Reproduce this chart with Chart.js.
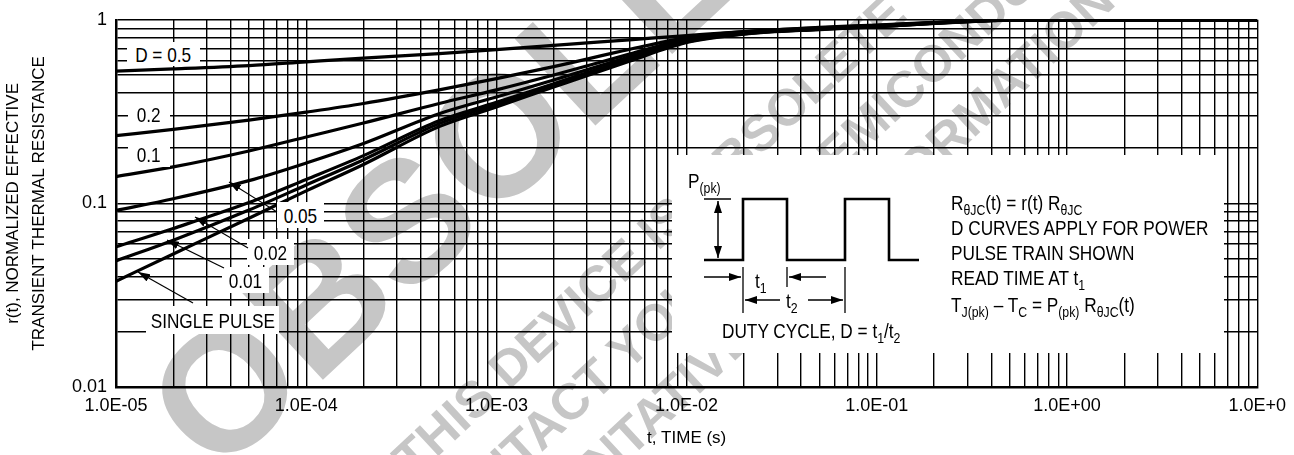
<!DOCTYPE html>
<html>
<head>
<meta charset="utf-8">
<title>Thermal Response</title>
<script src="https://cdn.jsdelivr.net/npm/chart.js@4.4.1/dist/chart.umd.min.js"></script>
<style>
  html, body { margin: 0; padding: 0; background: #fff; overflow: hidden; }
  #wrap { position: relative; width: 1294px; height: 455px; color: #000;
          font-family: "Liberation Sans", Arial, sans-serif; }
  #wm { position: absolute; left: 0; top: 0; width: 1294px; height: 455px; overflow: hidden; }
  .wm { position: absolute; transform-origin: 0 0; transform: rotate(-43deg); font-weight: bold;
        line-height: 1; color: #c6c6c6; white-space: nowrap; }
  #chart { position: absolute; left: 0; top: 0; }
  .tag { position: absolute; background: #fff; font-size: 21px; line-height: 1;
         display: flex; align-items: center; justify-content: center; white-space: nowrap; }
  .tag span { display: inline-block; transform: scaleX(0.82); }
  #inset { position: absolute; left: 672px; top: 155px; width: 552px; height: 198px; background: #fff; }
  .txt { position: absolute; font-size: 21px; line-height: 21px; white-space: nowrap;
         transform: scaleX(0.82); transform-origin: 0 50%; }
  sub { font-size: 15px; vertical-align: -5px; line-height: 0; }
  svg { position: absolute; left: 0; top: 0; overflow: visible; }
</style>
</head>
<body>
<div id="wrap">
  <!-- obsolete stamp, underneath the chart -->
  <div id="wm">
    <div class="wm" style="left:117px; top:372px; font-size:172px;">OBSOLETE</div>
    <div class="wm" style="left:384px; top:448px; font-size:51px;">THIS DEVICE IS OBSOLETE</div>
    <div class="wm" style="left:409px; top:517px; font-size:51px;">CONTACT YOUR ON SEMICONDUCTOR</div>
    <div class="wm" style="left:396px; top:618px; font-size:51px;">REPRESENTATIVE FOR INFORMATION</div>
  </div>

  <canvas id="chart" width="1294" height="455"></canvas>

  <!-- curve labels -->
  <div class="tag" style="left:127px; top:42px; width:73px; height:24px;"><span>D = 0.5</span></div>
  <div class="tag" style="left:128px; top:101px; width:42px; height:26px;"><span>0.2</span></div>
  <div class="tag" style="left:128px; top:141px; width:42px; height:26px;"><span>0.1</span></div>
  <div class="tag" style="left:277px; top:202px; width:47px; height:26px;"><span>0.05</span></div>
  <div class="tag" style="left:247px; top:239px; width:47px; height:26px;"><span>0.02</span></div>
  <div class="tag" style="left:222px; top:267px; width:47px; height:26px;"><span>0.01</span></div>
  <div class="tag" style="left:146px; top:306px; width:133px; height:28px;"><span>SINGLE PULSE</span></div>

  <svg width="1294" height="455">
    <defs>
      <marker id="ah" viewBox="0 0 12 8" refX="12" refY="4" markerWidth="12" markerHeight="8"
              markerUnits="userSpaceOnUse" orient="auto-start-reverse">
        <path d="M0,0 L12,4 L0,8 z" fill="#000"/>
      </marker>
    </defs>
    <g stroke="#000" stroke-width="1.2" fill="none">
      <line x1="277" y1="212" x2="229" y2="182" marker-end="url(#ah)"/>
      <line x1="248" y1="248" x2="195" y2="217" marker-end="url(#ah)"/>
      <line x1="224" y1="268" x2="167" y2="240" marker-end="url(#ah)"/>
      <line x1="193" y1="303" x2="138" y2="272" marker-end="url(#ah)"/>
    </g>
  </svg>

  <!-- inset: pulse train and notes -->
  <div id="inset"></div>
  <svg width="1294" height="455">
    <g stroke="#000" fill="none">
      <path d="M704,260 H743 V199 H787 V260 H845 V199 H889 V260 H919" stroke-width="2.6"/>
      <line x1="704" y1="199" x2="731" y2="199" stroke-width="1.5"/>
      <line x1="718" y1="201" x2="718" y2="258" stroke-width="1.5" marker-start="url(#ah)" marker-end="url(#ah)"/>
      <line x1="743" y1="267" x2="743" y2="313" stroke-width="1.3"/>
      <line x1="787" y1="267" x2="787" y2="287" stroke-width="1.3"/>
      <line x1="845" y1="267" x2="845" y2="313" stroke-width="1.3"/>
      <line x1="704" y1="277" x2="741" y2="277" stroke-width="1.3" marker-end="url(#ah)"/>
      <line x1="826" y1="277" x2="789" y2="277" stroke-width="1.3" marker-end="url(#ah)"/>
      <line x1="780" y1="300" x2="745" y2="300" stroke-width="1.3" marker-end="url(#ah)"/>
      <line x1="808" y1="300" x2="843" y2="300" stroke-width="1.3" marker-end="url(#ah)"/>
    </g>
  </svg>
  <div class="txt" style="left:688px; top:170px;">P<sub>(pk)</sub></div>
  <div class="txt" style="left:755px; top:270px;">t<sub>1</sub></div>
  <div class="txt" style="left:786px; top:290px;">t<sub>2</sub></div>
  <div class="txt" style="left:722px; top:320px;">DUTY CYCLE, D = t<sub>1</sub>/t<sub>2</sub></div>
  <div class="txt" style="left:951px; top:192px;">R<sub>θJC</sub>(t) = r(t) R<sub>θJC</sub></div>
  <div class="txt" style="left:951px; top:217px;">D CURVES APPLY FOR POWER</div>
  <div class="txt" style="left:951px; top:242px;">PULSE TRAIN SHOWN</div>
  <div class="txt" style="left:951px; top:267px;">READ TIME AT t<sub>1</sub></div>
  <div class="txt" style="left:951px; top:294px;">T<sub>J(pk)</sub> – T<sub>C</sub> = P<sub>(pk)</sub> R<sub>θJC</sub>(t)</div>
</div>

<script>
// -------------------- DATA --------------------
// time points (s)
const tSec = [1e-5, 2e-5, 5e-5, 1e-4, 2e-4, 5e-4, 1e-3, 2e-3, 5e-3, 1e-2, 2e-2, 5e-2, 1e-1, 2e-1, 5e-1, 1, 10];

// r(t) for each duty cycle
const rD50    = [0.526, 0.540, 0.563, 0.590, 0.618, 0.655, 0.688, 0.726, 0.778, 0.820, 0.863, 0.910, 0.937, 0.968, 1.0, 1.0, 1.0];
const rD20    = [0.234, 0.253, 0.284, 0.314, 0.350, 0.415, 0.478, 0.556, 0.690, 0.800, 0.862, 0.905, 0.932, 0.965, 1.0, 1.0, 1.0];
const rD10    = [0.140, 0.158, 0.193, 0.230, 0.274, 0.350, 0.415, 0.500, 0.650, 0.785, 0.855, 0.900, 0.928, 0.963, 0.999, 1.0, 1.0];
const rD05    = [0.0915, 0.106, 0.133, 0.166, 0.212, 0.308, 0.380, 0.470, 0.628, 0.772, 0.848, 0.895, 0.924, 0.961, 0.998, 1.0, 1.0];
const rD02    = [0.058, 0.073, 0.101, 0.135, 0.182, 0.282, 0.355, 0.449, 0.611, 0.762, 0.842, 0.891, 0.920, 0.959, 0.997, 1.0, 1.0];
const rD01    = [0.0486, 0.063, 0.092, 0.126, 0.173, 0.272, 0.345, 0.440, 0.603, 0.757, 0.838, 0.888, 0.918, 0.957, 0.996, 1.0, 1.0];
const rSingle = [0.0377, 0.053, 0.083, 0.117, 0.163, 0.262, 0.335, 0.430, 0.595, 0.752, 0.835, 0.885, 0.915, 0.955, 0.995, 1.0, 1.0];

// axes
const xDecades = [1e-5, 1e-4, 1e-3, 1e-2, 1e-1, 1, 10];
const xDecadeLabels = ["1.0E-05", "1.0E-04", "1.0E-03", "1.0E-02", "1.0E-01", "1.0E+00", "1.0E+0"];
const yDecades = [0.01, 0.1, 1];
const yDecadeLabels = ["0.01", "0.1", "1"];
const gridSteps = [1, 2, 3, 4, 5, 6, 7, 8, 9];

// -------------------- HELPERS --------------------
function gridValues(decades) {
  let out = [];
  for (let i = 0; i < decades.length - 1; i++) {
    gridSteps.forEach(k => out.push(decades[i] * k));
  }
  out.push(decades[decades.length - 1]);
  return out;
}

function labelFor(v, decades, labels) {
  let idx = decades.findIndex(d => Math.abs(Math.log10(v / d)) < 1e-6);
  return idx >= 0 ? labels[idx] : "";
}

function series(arr) {
  return {
    data: tSec.map((t, i) => ({ x: t, y: arr[i] })),
    borderColor: "#000",
    borderWidth: 3.2,
    pointRadius: 0,
    fill: false,
    cubicInterpolationMode: "monotone"
  };
}

// -------------------- CHART --------------------
Chart.defaults.font.family = '"Liberation Sans", Arial, sans-serif';
Chart.defaults.color = "#000";

new Chart(document.getElementById("chart"), {
  type: "line",
  data: {
    datasets: [rD50, rD20, rD10, rD05, rD02, rD01, rSingle].map(series)
  },
  options: {
    responsive: false,
    animation: false,
    layout: { padding: { top: 15, right: 27, left: 0, bottom: 0 } },
    plugins: { legend: { display: false }, tooltip: { enabled: false } },
    scales: {
      x: {
        type: "logarithmic",
        min: 1e-5,
        max: 10,
        afterBuildTicks: s => { s.ticks = gridValues(xDecades).map(v => ({ value: v })); },
        afterFit: s => { s.height = 68; },
        ticks: {
          autoSkip: false, maxRotation: 0, minRotation: 0, padding: 8,
          font: { size: 18 },
          callback: v => labelFor(v, xDecades, xDecadeLabels)
        },
        grid: { color: "#000", lineWidth: 1.4, drawTicks: false },
        border: { color: "#000", width: 2.5 },
        title: { display: true, text: "t, TIME (s)", font: { size: 17 }, padding: { top: 0, bottom: 6 } }
      },
      y: {
        type: "logarithmic",
        min: 0.01,
        max: 1,
        afterBuildTicks: s => { s.ticks = gridValues(yDecades).map(v => ({ value: v })); },
        afterFit: s => { s.width = 116; },
        ticks: {
          autoSkip: false, padding: 9,
          font: { size: 18 },
          callback: v => labelFor(v, yDecades, yDecadeLabels)
        },
        grid: { color: "#000", lineWidth: 1.4, drawTicks: false },
        border: { color: "#000", width: 2.5 },
        title: {
          display: true,
          text: ["r(t), NORMALIZED EFFECTIVE", "TRANSIENT THERMAL RESISTANCE"],
          font: { size: 17, lineHeight: 1.56 },
          padding: { top: 0, bottom: 0 }
        }
      }
    }
  }
});
</script>
</body>
</html>
